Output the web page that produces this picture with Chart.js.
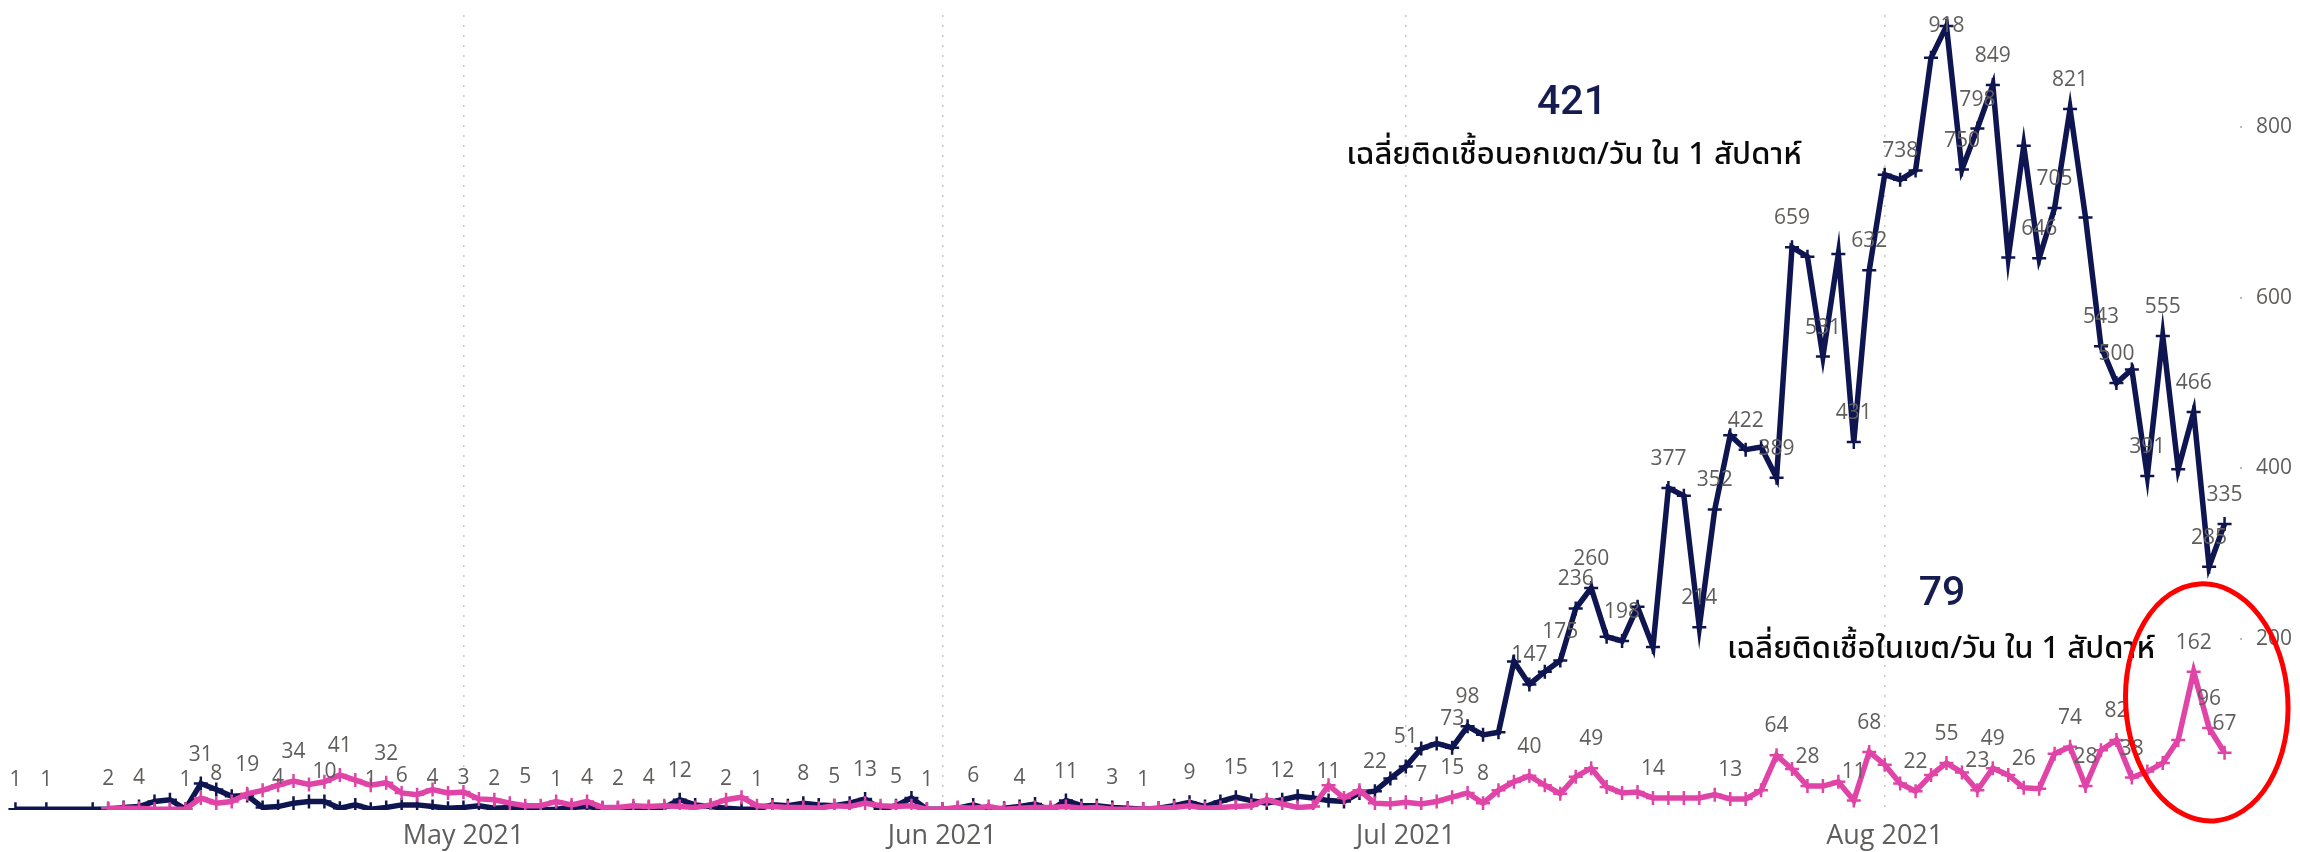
<!DOCTYPE html>
<html>
<head>
<meta charset="utf-8">
<script src="https://cdn.jsdelivr.net/npm/chart.js@4.4.1/dist/chart.umd.min.js"></script>
<style>
html,body{margin:0;padding:0;background:#fff;}
#wrap{position:relative;width:2300px;height:852px;}
</style>
</head>
<body>
<div id="wrap"><canvas id="c" width="2300" height="852"></canvas></div>
<script>
// ---- categories: daily dates from 2021-04-02 to 2021-08-23 ----
const firstDate = '2021-04-02';
const dayCount = 144;
const axisStart = '2021-04-01';
const axisEnd = '2021-08-24';

// ---- series: outside-zone daily infections (navy) ----
const outsideZone = [
  1, null, 1, null, null, 1, 1, 3, 4, 10,
  12, 1, 31, 24, 16, 17, 3, 4, 8, 10,
  10, 2, 6, 1, 3, 6, 6, 4, 2, 3,
  5, 2, 3, 1, 0, 1, 3, 4, 2, 2,
  2, 3, 3, 12, 6, 4, 2, 1, 1, 6,
  5, 8, 6, 5, 8, 13, 1, 5, 14, 1,
  1, 2, 6, 0, 2, 4, 7, 0, 11, 5,
  5, 3, 2, 1, 2, 5, 9, 4, 10, 15,
  11, 8, 12, 16, 14, 11, 10, 20, 22, 37,
  51, 72, 78, 73, 98, 88, 91, 174, 147, 162,
  175, 236, 260, 203, 198, 238, 191, 377, 368, 214,
  352, 439, 422, 425, 389, 659, 648, 531, 651, 431,
  632, 744, 738, 749, 881, 918, 750, 798, 849, 647,
  778, 646, 705, 821, 694, 543, 500, 516, 391, 555,
  399, 466, 285, 335
];

// ---- series: inside-zone daily infections (pink) ----
const insideZone = [
  null, null, null, null, null, null, 2, 2, 2, 1,
  1, 1, 14, 8, 10, 19, 23, 29, 34, 30,
  33, 41, 35, 29, 32, 20, 18, 24, 20, 21,
  13, 12, 8, 5, 5, 10, 6, 10, 3, 3,
  5, 4, 5, 4, 3, 6, 12, 15, 5, 4,
  3, 3, 2, 5, 4, 8, 5, 4, 5, 1,
  1, 3, 2, 4, 1, 2, 3, 3, 4, 2,
  3, 1, 1, 1, 2, 3, 5, 2, 3, 4,
  5, 12, 7, 3, 4, 29, 14, 23, 8, 7,
  9, 7, 10, 15, 20, 8, 23, 33, 40, 29,
  19, 39, 49, 27, 20, 21, 14, 14, 14, 14,
  18, 13, 13, 23, 64, 48, 28, 28, 33, 11,
  68, 53, 31, 22, 41, 55, 44, 23, 49, 41,
  26, 25, 66, 74, 28, 70, 82, 38, 45, 55,
  82, 162, 96, 67
];

// ---- which points carry a data label ----
const outsideLabelDates = [
  '04-02','04-04','04-10','04-13','04-14','04-19','04-22','04-25','04-27','04-29',
  '05-01','05-03','05-07','05-09','05-11','05-15','05-18','05-20','05-23','05-25',
  '05-27','05-29','05-31','06-03','06-06','06-09','06-12','06-14','06-17','06-20',
  '06-23','06-26','06-29','07-01','07-04','07-05','07-09','07-11','07-12','07-13',
  '07-15','07-18','07-20','07-21','07-23','07-25','07-26','07-28','07-30','07-31',
  '08-02','08-05','08-06','08-07','08-08','08-11','08-12','08-13','08-15','08-16',
  '08-18','08-19','08-21','08-22','08-23'
];
const insideLabelDates = [
  '04-08','04-15','04-17','04-20','04-23','04-26','05-05','05-13','07-02','07-04',
  '07-06','07-09','07-13','07-17','07-22','07-25','07-27','07-30','07-31','08-03',
  '08-05','08-07','08-08','08-10','08-13','08-14','08-16','08-17','08-21','08-22','08-23'
];

// ---- x tick labels ----
const monthTickDates = ['2021-05-01','2021-06-01','2021-07-01','2021-08-01'];
const monthTickLabels = ['May 2021','Jun 2021','Jul 2021','Aug 2021'];
const yTicks = [200, 400, 600, 800];

// ---- annotation texts ----
const outsideAvg = '421';
const outsideAvgText = 'เฉลี่ยติดเชื้อนอกเขต/วัน ใน 1 สัปดาห์';
const insideAvg = '79';
const insideAvgText = 'เฉลี่ยติดเชื้อในเขต/วัน ใน 1 สัปดาห์';

// ---------------------------------------------------------------
const DAY = 86400000;
const t0 = Date.parse(axisStart + 'T00:00:00Z');
const dayIndex = s => Math.round((Date.parse(s + 'T00:00:00Z') - t0) / DAY);
const dates = [];
{
  const start = Date.parse(firstDate + 'T00:00:00Z');
  for (let i = 0; i < dayCount; i++) dates.push(new Date(start + i * DAY).toISOString().slice(0, 10));
}
const toPoints = arr => arr.map((v, i) => ({ x: dayIndex(dates[i]), y: v, date: dates[i].slice(5) }));

const NAVY = '#0E1550';
const PINK = '#E044A7';
const FONT = '"Segoe UI", "Open Sans", "Noto Sans", sans-serif';
const THAI = '"Noto Sans Thai", "Leelawadee UI", Tahoma, "Noto Sans", "DejaVu Sans", sans-serif';

const labelPlugin = {
  id: 'pointLabels',
  afterDatasetsDraw(chart) {
    const ctx = chart.ctx;
    const top = chart.chartArea.top;
    ctx.save();
    ctx.font = '21px ' + FONT;
    ctx.fillStyle = '#605E5C';
    ctx.textAlign = 'center';
    ctx.textBaseline = 'middle';
    chart.data.datasets.forEach((ds, di) => {
      const meta = chart.getDatasetMeta(di);
      const set = new Set(ds.labelDates);
      ds.data.forEach((p, i) => {
        if (p.y == null || !set.has(p.date)) return;
        const el = meta.data[i];
        ctx.fillText(String(p.y), el.x, Math.max(el.y - 29, top + 11));
      });
    });
    ctx.restore();
  }
};

const annotationPlugin = {
  id: 'annotations',
  afterDraw(chart) {
    const ctx = chart.ctx;
    const xs = chart.scales.x, ys = chart.scales.y;
    ctx.save();
    ctx.textAlign = 'center';
    ctx.textBaseline = 'middle';
    ctx.fillStyle = '#151C4F';
    ctx.font = '500 41px Roboto, ' + FONT;
    ctx.fillText(outsideAvg, 1572, 104);
    ctx.fillText(insideAvg, 1942, 595);
    ctx.fillStyle = '#0A0A0A';
    ctx.font = '500 31px ' + THAI;
    ctx.fillText(outsideAvgText, 1574, 158);
    ctx.fillText(insideAvgText, 1941, 652);
    // red highlight ellipse around the last days of the inside-zone series
    const cx = xs.getPixelForValue(dayIndex('2021-08-22') - 0.15);
    const cy = ys.getPixelForValue(126);
    const rx = xs.getPixelForValue(5.25) - xs.getPixelForValue(0);
    const ry = ys.getPixelForValue(0) - ys.getPixelForValue(139);
    ctx.beginPath();
    ctx.ellipse(cx, cy, rx, ry, -0.06, 0, Math.PI * 2);
    ctx.strokeStyle = '#FF0000';
    ctx.lineWidth = 5;
    ctx.stroke();
    ctx.restore();
  }
};

new Chart(document.getElementById('c'), {
  type: 'line',
  data: {
    datasets: [
      {
        label: 'ในเขต',
        data: toPoints(insideZone),
        labelDates: insideLabelDates,
        borderColor: PINK,
        backgroundColor: PINK,
        borderWidth: 5.5,
        pointStyle: 'cross',
        pointRadius: 7,
        pointBorderWidth: 2.5,
        pointBorderColor: PINK,
        tension: 0,
        spanGaps: true
      },
      {
        label: 'นอกเขต',
        data: toPoints(outsideZone),
        labelDates: outsideLabelDates,
        borderColor: NAVY,
        backgroundColor: NAVY,
        borderWidth: 5.5,
        pointStyle: 'cross',
        pointRadius: 7,
        pointBorderWidth: 2.5,
        pointBorderColor: NAVY,
        tension: 0,
        spanGaps: true
      }
    ]
  },
  options: {
    responsive: false,
    animation: false,
    layout: { padding: { top: 15, left: 0, right: 0, bottom: 0 }, autoPadding: false },
    plugins: { legend: { display: false }, tooltip: { enabled: false } },
    scales: {
      x: {
        type: 'linear',
        min: dayIndex(axisStart),
        max: dayIndex(axisEnd),
        afterBuildTicks: s => { s.ticks = monthTickDates.map(d => ({ value: dayIndex(d) })); },
        afterFit: s => { s.height = 42; s.paddingLeft = 0; s.paddingRight = 0; },
        ticks: {
          autoSkip: false,
          maxRotation: 0,
          padding: 10,
          color: '#605E5C',
          font: { size: 27, family: FONT },
          callback: (v) => {
            const k = monthTickDates.findIndex(d => dayIndex(d) === v);
            return k >= 0 ? monthTickLabels[k] : '';
          }
        },
        grid: { color: '#C8C6C4', lineWidth: 1.5, drawTicks: false },
        border: { display: false, dash: [2, 8] }
      },
      y: {
        position: 'right',
        min: 0,
        max: 931,
        afterBuildTicks: s => { s.ticks = yTicks.map(v => ({ value: v })); },
        afterFit: s => { s.width = 60; s.paddingTop = 0; s.paddingBottom = 0; },
        ticks: {
          padding: 14,
          color: '#605E5C',
          font: { size: 21, family: FONT }
        },
        grid: { drawOnChartArea: false, drawTicks: true, tickLength: 2, color: '#BDBBB9', lineWidth: 2 },
        border: { display: false }
      }
    }
  },
  plugins: [labelPlugin, annotationPlugin]
});
</script>
</body>
</html>
